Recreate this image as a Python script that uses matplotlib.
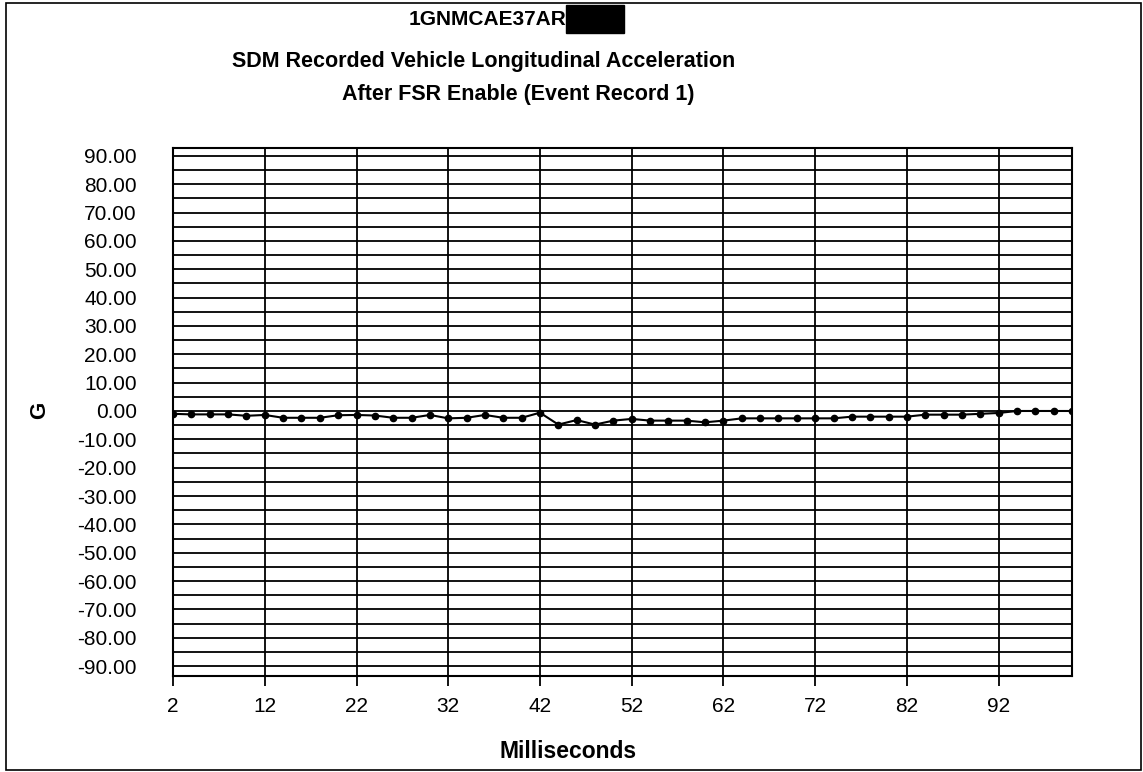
"""
SDM recorded vehicle longitudinal acceleration after FSR enable.
"""

import matplotlib
matplotlib.use("Agg")
import matplotlib.pyplot as plt
from matplotlib.patches import Rectangle
from matplotlib.ticker import MultipleLocator

# time in ms and acceleration in G
ms = [2, 4, 6, 8, 10, 12, 14, 16, 18, 20,
      22, 24, 26, 28, 30, 32, 34, 36, 38, 40,
      42, 44, 46, 48, 50, 52, 54, 56, 58, 60,
      62, 64, 66, 68, 70, 72, 74, 76, 78, 80,
      82, 84, 86, 88, 90, 92, 94, 96, 98, 100]
g = [-1.0, -1.2, -1.2, -1.2, -1.7, -1.4, -2.4, -2.4, -2.4, -1.5,
     -1.4, -1.6, -2.4, -2.4, -1.4, -2.6, -2.4, -1.4, -2.4, -2.4,
     -0.6, -4.8, -3.2, -4.8, -3.4, -2.8, -3.4, -3.4, -3.4, -4.0,
     -3.4, -2.6, -2.6, -2.6, -2.6, -2.6, -2.6, -2.0, -2.0, -2.0,
     -2.0, -1.3, -1.3, -1.3, -1.0, -0.7, 0.0, 0.0, 0.0, 0.0]
xticks = [2, 12, 22, 32, 42, 52, 62, 72, 82, 92]
yticks = list(range(-90, 91, 10))

plt.rcParams['font.family'] = ['Liberation Sans', 'DejaVu Sans']


def main():
    fig = plt.figure(figsize=(11.43, 7.72), dpi=100)
    ax = fig.add_axes([0.1514, 0.1244, 0.7865, 0.6839])

    ax.plot(ms, g, color="black", linewidth=1.5, marker="o", markersize=4.5, zorder=3)

    ax.set_xlim(2, 100)
    ax.set_ylim(-93.5, 92.8)
    ax.set_xticks(xticks)
    ax.set_yticks(yticks)
    ax.set_yticklabels(["%.2f" % v for v in yticks])
    ax.yaxis.set_minor_locator(MultipleLocator(5))

    # grid: horizontal every 5 G, vertical at the labelled ms
    ax.grid(True, which="both", axis="y", color="black", linewidth=1.3)
    ax.grid(True, which="major", axis="x", color="black", linewidth=1.3)
    ax.tick_params(axis="y", which="both", length=0, pad=26, labelsize=15)
    ax.tick_params(axis="x", length=7, width=1.3, pad=8, labelsize=15)
    for s in ax.spines.values():
        s.set_linewidth(1.5)
        s.set_color("black")

    fig.text(0.035, 0.469, "G", rotation=90, fontsize=16, fontweight="bold",
             ha="center", va="center")
    fig.text(0.497, 0.026, "Milliseconds", fontsize=16.5, fontweight="bold",
             ha="center", va="center")

    # title lines (not centred on each other in the original)
    fig.text(0.4952, 0.975, "1GNMCAE37AR", fontsize=15, fontweight="bold",
             ha="right", va="center")
    fig.patches.append(Rectangle((0.4952, 1 - 33 / 772), 58 / 1143, 28 / 772,
                                 transform=fig.transFigure, color="black"))
    fig.text(0.4235, 0.9197, "SDM Recorded Vehicle Longitudinal Acceleration",
             fontsize=15.5, fontweight="bold", ha="center", va="center")
    fig.text(0.453, 0.877, "After FSR Enable (Event Record 1)",
             fontsize=15.5, fontweight="bold", ha="center", va="center")

    # outer page frame
    fig.patches.append(Rectangle((0.005, 0.003), 0.993, 0.993, transform=fig.transFigure,
                                 fill=False, edgecolor="black", linewidth=1.2))

    fig.savefig("out.png", dpi=100)


if __name__ == '__main__':
    main()
